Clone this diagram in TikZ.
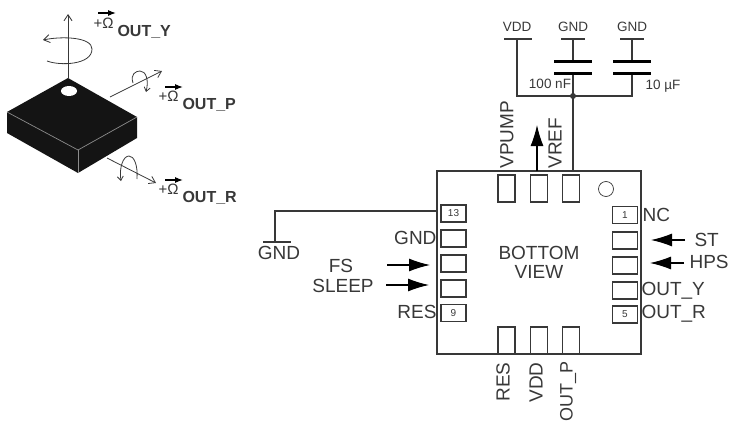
\documentclass[tikz,border=0pt]{standalone}
\usepackage{fontspec}
\setmainfont{Liberation Sans}
\usetikzlibrary{arrows.meta,shapes.geometric}
\definecolor{ink}{gray}{0.22}
\begin{document}
\begin{tikzpicture}[x=1pt,y=-1pt,line width=1.1pt,draw=ink,text=ink,
    sig/.style={font=\fontsize{19}{19}\selectfont,inner sep=0pt},
    small/.style={font=\fontsize{13.5}{14}\selectfont,inner sep=0pt},
    axisname/.style={font=\fontsize{16}{16}\selectfont\bfseries,inner sep=0pt,anchor=west},
    omega/.style={font=\fontsize{15}{15}\selectfont,inner sep=0pt},
    thin axis/.style={line width=.8pt,-{Straight Barb[length=6pt,width=8pt]}},
    input/.style={-{Latex[length=21pt,width=13pt]},black}]
    \tikzstyle{padv}=[draw,rectangle,minimum width=17pt,minimum height=27pt,inner sep=0pt]
    \tikzstyle{padh}=[draw,rectangle,minimum width=25pt,minimum height=17pt,inner sep=0pt,font=\fontsize{10}{10}\selectfont]
    \tikzstyle{plate}=[line width=3pt,black]

    \clip[use as bounding box] (0,0) rectangle (729,423);

    \coordinate (chiptop) at (68,78);
    \coordinate (chipleft) at (7,112);
    \coordinate (chipright) at (137,117);
    \coordinate (chipfront) at (78,150);
    \coordinate (chipbase) at (78,173);
    \coordinate (baseleft) at (7,133);
    \coordinate (baseright) at (137,138);
    \coordinate (ytip) at (68,14);
    \coordinate (pstart) at (110,97);
    \coordinate (ptip) at (162,71);
    \coordinate (rstart) at (107,158);
    \coordinate (rtip) at (156,183);

    \draw[line width=.9pt,-{Straight Barb[length=6pt,width=8pt]}] (chiptop) -- (ytip);
    \draw[thin axis] (pstart) -- (ptip);
    \draw[thin axis] (rstart) -- (rtip);
    \draw[thin axis] (47,61) .. controls (60,66) and (92,65) .. (92,49) .. controls (92,37) and (62,36) .. (43,40);
    \draw[line width=.8pt,-{Straight Barb[length=4pt,width=6pt]}] (133,83) .. controls (130,74) and (136,71) .. (140,71) .. controls (146,71) and (149,80) .. (146,92);
    \draw[line width=.8pt,-{Straight Barb[length=4pt,width=6pt]}] (137,179) .. controls (138,165) and (134,156) .. (129,156) .. controls (123,156) and (119,168) .. (121,181);

    \fill[black!92] (chiptop) -- (chipright) -- (baseright) -- (chipbase) -- (baseleft) -- (chipleft) -- cycle;
    \draw[black!45,line width=.7pt] (chipleft) -- (chipfront) -- (chipright);
    \draw[black!45,line width=.7pt] (chipfront) -- (chipbase);
    \node[fill=white,ellipse,minimum width=16pt,minimum height=10pt,inner sep=0pt] (hole) at (69,91) {};

    \node[omega] (plusy) at (98,24) {+};
    \node[omega] (omegay) at (108,23) {Ω};
    \node[axisname] (outy) at (117,32) {OUT\_Y};
    \draw[black,-{Latex[length=8pt,width=6pt]}] (98,13) -- (116,13);
    \node[omega] (plusp) at (163,97) {+};
    \node[omega] (omegap) at (173,96) {Ω};
    \node[axisname] (outp) at (182,105) {OUT\_P};
    \draw[black,-{Latex[length=8pt,width=6pt]}] (165,87) -- (183,87);
    \node[omega] (plusr) at (163,190) {+};
    \node[omega] (omegar) at (173,189) {Ω};
    \node[axisname] (outr) at (182,198) {OUT\_R};
    \draw[black,-{Latex[length=8pt,width=6pt]}] (165,180) -- (183,180);

    \node[draw,rectangle,minimum width=204pt,minimum height=183pt,inner sep=0pt] (package) at (539,262.5) {};
    \node[draw,circle,minimum size=15pt,inner sep=0pt,line width=.7pt] (dot) at (606,189) {};

    \node[padv] (pad16) at (506.5,188.5) {};
    \node[padv] (pad15) at (539,188.5) {};
    \node[padv] (pad14) at (571,188.5) {};
    \node[padv] (pad10) at (506.5,340.5) {};
    \node[padv] (pad11) at (539,340.5) {};
    \node[padv] (pad12) at (571,340.5) {};

    \node[padh] (pad13) at (453.5,213.5) {13};
    \node[padh] (pad8a) at (453.5,238.5) {};
    \node[padh] (pad8b) at (453.5,263.5) {};
    \node[padh] (pad8c) at (453.5,288.5) {};
    \node[padh] (pad9) at (453.5,313) {9};
    \node[padh] (pad1) at (625,215) {1};
    \node[padh] (pad2) at (625,240.5) {};
    \node[padh] (pad3) at (625,265.5) {};
    \node[padh] (pad4) at (625,290.5) {};
    \node[padh] (pad5) at (625,314.5) {5};

    \node[sig] (bottom) at (539,253) {BOTTOM};
    \node[sig] (view) at (539,272) {VIEW};

    \node[sig,anchor=east] (gndl) at (437,238) {GND};
    \node[sig,anchor=east] (resl) at (437,312) {RES};
    \node[sig] (fs) at (341,266) {FS};
    \node[sig] (sleep) at (343,286) {SLEEP};
    \node[sig] (gndw) at (279,253) {GND};
    \node[sig,anchor=west] (nc) at (642,215) {NC};
    \node[sig,anchor=west] (st) at (694,240) {ST};
    \node[sig,anchor=west] (hps) at (689,262) {HPS};
    \node[sig,anchor=west] (outyr) at (641,291) {OUT\_Y};
    \node[sig,anchor=west] (outrr) at (641,314) {OUT\_R};

    \node[sig,rotate=90,anchor=west] (vpump) at (507,169) {VPUMP};
    \node[sig,rotate=90,anchor=west] (vref) at (555,169) {VREF};
    \node[sig,rotate=90,anchor=east] (resb) at (503,362) {RES};
    \node[sig,rotate=90,anchor=east] (vddb) at (536,362) {VDD};
    \node[sig,font=\fontsize{18}{18}\selectfont,rotate=90,anchor=east] (outpb) at (568,361) {OUT\_P};

    \coordinate (fsstart) at (387,265);
    \coordinate (fsend) at (430,265);
    \coordinate (sleepstart) at (386,285);
    \coordinate (sleepend) at (429,285);
    \coordinate (ststart) at (685,240);
    \coordinate (stend) at (651,240);
    \coordinate (hpsstart) at (684,263);
    \coordinate (hpsend) at (650,263);
    \coordinate (vrefstart) at (537,171);
    \coordinate (vrefend) at (537,125);
    \draw[input] (fsstart) -- (fsend);
    \draw[input] (sleepstart) -- (sleepend);
    \draw[input] (ststart) -- (stend);
    \draw[input] (hpsstart) -- (hpsend);
    \draw[input] (vrefstart) -- (vrefend);

    \coordinate (gndcorner) at (275,211);
    \coordinate (gndfoot) at (275,242);
    \coordinate (gndbarl) at (263,242);
    \coordinate (gndbarr) at (291,242);
    \coordinate (gndentry) at (437,211);
    \draw (gndentry) -- (gndcorner) -- (gndfoot);
    \draw (gndbarl) -- (gndbarr);

    \node[small] (vdd) at (517,27) {VDD};
    \node[small] (gnda) at (573,27) {GND};
    \node[small] (gndb) at (632,27) {GND};
    \node[small] (cap100) at (550,84) {100 nF};
    \node[small] (cap10) at (663,86) {10 µF};

    \coordinate (vddtop) at (517,39);
    \coordinate (vddcorner) at (517,96);
    \coordinate (junction) at (573,96);
    \coordinate (capcorner) at (632,96);
    \coordinate (gndatop) at (573,39);
    \coordinate (gndbtop) at (632,39);
    \coordinate (plateaup) at (573,61);
    \coordinate (plateal) at (573,73);
    \coordinate (platebp) at (632,61);
    \coordinate (platebl) at (632,73);
    \coordinate (bodytop) at (573,171);

    \draw (vddtop) -- (vddcorner) -- (capcorner) -- (platebl);
    \draw (gndatop) -- (plateaup);
    \draw (gndbtop) -- (platebp);
    \draw (plateal) -- (junction) -- (bodytop);
    \draw (504,39) -- (532,39);
    \draw (561,39) -- (585,39);
    \draw (620,39) -- (644,39);
    \draw[plate] (554,61) -- (592,61);
    \draw[plate] (554,73) -- (592,73);
    \draw[plate] (613,61) -- (651,61);
    \draw[plate] (613,73) -- (651,73);
    \fill[ink] (junction) circle (3pt);

  \end{tikzpicture}
\end{document}
